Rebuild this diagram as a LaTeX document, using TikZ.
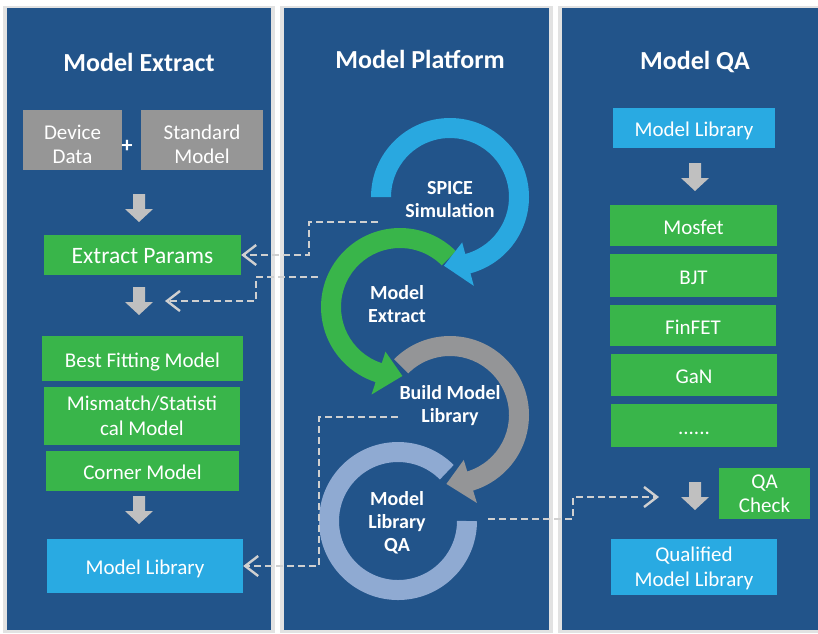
\documentclass[tikz,border=0pt]{standalone}
\usepackage{fontspec}
\setmainfont{Carlito}
\usepackage{tikz}
\usetikzlibrary{arrows.meta}
\usetikzlibrary{calc}
\definecolor{panelblue}{RGB}{34,84,138}
\definecolor{boxgreen}{RGB}{57,181,74}
\definecolor{boxblue}{RGB}{41,170,226}
\definecolor{boxgray}{RGB}{150,150,150}
\definecolor{arrowgray}{RGB}{192,192,192}
\definecolor{ringblue}{RGB}{41,168,224}
\definecolor{ringgray}{RGB}{148,149,151}
\definecolor{ringqa}{RGB}{143,170,210}
\definecolor{dashgray}{RGB}{208,208,208}
\definecolor{shadowgray}{RGB}{226,226,226}
\tikzset{panel/.style = {fill=panelblue}}
\tikzset{title/.style = {text=white, font=\fontsize{26}{30}\selectfont\bfseries}}
\tikzset{ringtext/.style = {text=white, align=center, font=\fontsize{20}{23}\selectfont\bfseries}}
\tikzset{box/.style = {text=white, align=center, inner sep=0, font=\fontsize{21}{24.5}\selectfont,
                       execute at begin node=\rule[-5.5pt]{0pt}{28pt}}}
\tikzset{twoline/.style = {execute at begin node=\rule[-5.5pt]{0pt}{49pt}}}
\tikzset{greenbox/.style = {box, fill=boxgreen}}
\tikzset{bluebox/.style = {box, fill=boxblue}}
\tikzset{graybox/.style = {box, fill=boxgray, execute at begin node=\rule[-5.5pt]{0pt}{58pt}}}
\tikzset{dashlink/.style = {draw=dashgray, line width=2.6pt, dash pattern=on 7pt off 4pt,
                            -{Straight Barb[length=13pt, width=20pt, line width=2.4pt]}}}
\newcommand{\grayarrow}[1]{\fill[arrowgray] (#1) ++(-6,-14) -- ++(12,0) -- ++(0,15)
  -- ++(8,0) -- ++(-14,13) -- ++(-14,-13) -- ++(8,0) -- cycle;}
\newcommand{\ringarrow}[5]{\fill[#2] ($(#1)+(#3:79)$) arc[start angle=#3, end angle=#4, radius=79]
  -- ($(#1)+(#4:92)$) -- ($(#1)+(#5:69)$) -- ($(#1)+(#4:47)$) -- ($(#1)+(#4:59)$)
  arc[start angle=#4, end angle=#3, radius=59] -- cycle;}

\begin{document}
\begin{tikzpicture}[x=1pt, y=-1pt]
  \useasboundingbox (0,0) rectangle (818,633);
  \fill[white] (0,0) rectangle (818,633);
  % panels
  \foreach \xa/\xb in {7/271, 284/549, 562/818} {
    \fill[shadowgray] (\xa-4,6) rectangle (\xb+4,633);
    \fill[panel] (\xa,8) rectangle (\xb,630);
  }
  \node[title] (extracttitle) at (139,62) {Model Extract};
  \node[title] (platformtitle) at (420,59) {Model Platform};
  \node[title] (qatitle) at (695,62) {Model QA};

  % left column
  \node[graybox, minimum width=99, minimum height=60] (devdata) at (72.5,140) {Device\\Data};
  \node[graybox, minimum width=122, minimum height=60] (stdmodel) at (202,140) {Standard\\Model};
  \node[text=white, font=\fontsize{22}{24}\selectfont\bfseries] (plus) at (127,146) {+};
  \grayarrow{139,208}
  \node[greenbox, minimum width=197, minimum height=40, font=\fontsize{23.5}{26}\selectfont] (extract) at (142.5,255) {Extract Params};
  \grayarrow{139,301}
  \coordinate (fitin) at (165,301);
  \node[greenbox, minimum width=201, minimum height=45] (bestfit) at (142.5,358.5) {Best Fitting Model};
  \node[greenbox, twoline, minimum width=196, minimum height=58] (mismatch) at (142,416) {Mismatch/Statisti\\cal Model};
  \node[greenbox, minimum width=193, minimum height=40] (corner) at (142.5,471) {Corner Model};
  \grayarrow{139,510}
  \node[bluebox, minimum width=196, minimum height=54] (libleft) at (145,566) {Model Library};

  % middle column
  \coordinate (spicec) at (450,197);
  \coordinate (extc) at (400,307);
  \coordinate (buildc) at (450,415);
  \coordinate (qac) at (398,521);
  \draw[ringqa, line width=20pt] ($(qac)+(-45:69)$) arc[start angle=-45, end angle=-360, radius=69];
  \ringarrow{buildc}{ringgray}{-135}{73}{93}
  \ringarrow{extc}{boxgreen}{-45}{-252}{-272}
  \ringarrow{spicec}{ringblue}{-180}{75}{95}
  \node[ringtext] (spicetxt) at (450,200) {SPICE\\Simulation};
  \node[ringtext] (exttxt) at (397,304) {Model\\Extract};
  \node[ringtext] (buildtxt) at (450,406) {Build Model\\Library};
  \node[ringtext] (qatxt) at (397,523) {Model\\Library\\QA};

  % right column
  \node[bluebox, minimum width=162, minimum height=40] (libright) at (694,128) {Model Library};
  \grayarrow{695,177}
  \node[greenbox, minimum width=167, minimum height=41] (mosfet) at (693.5,225.5) {Mosfet};
  \node[greenbox, minimum width=167, minimum height=43] (bjt) at (693.5,275.5) {BJT};
  \node[greenbox, minimum width=166, minimum height=41] (finfet) at (693,325.5) {FinFET};
  \node[greenbox, minimum width=166, minimum height=42] (gan) at (694,375) {GaN};
  \node[greenbox, minimum width=166, minimum height=43] (more) at (694,425.5) {......};
  \grayarrow{695,496}
  \coordinate (qain) at (659,497);
  \node[greenbox, twoline, minimum width=91, minimum height=51] (qacheck) at (764.5,493.5) {QA\\Check};
  \node[bluebox, twoline, minimum width=166, minimum height=56] (qualified) at (694,567) {Qualified\\Model Library};

  % dashed links
  \coordinate (s1) at (378,222);
  \coordinate (k1) at (309,222);
  \coordinate (s2) at (318,277);
  \coordinate (k2) at (256,277);
  \coordinate (s3) at (398,417);
  \coordinate (k3) at (319,417);
  \coordinate (s4) at (488,519);
  \coordinate (k4) at (573,519);
  \draw[dashlink] (s1) -- (k1) |- (extract.east);
  \draw[dashlink] (s2) -- (k2) |- (fitin);
  \draw[dashlink] (s3) -- (k3) |- (libleft.east);
  \draw[dashlink] (s4) -- (k4) |- (qain);
\end{tikzpicture}
\end{document}
